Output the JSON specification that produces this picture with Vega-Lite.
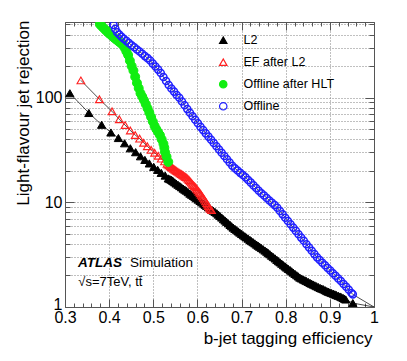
{
"$schema":"https://vega.github.io/schema/vega-lite/v6.json",
"width":309,"height":285,
"autosize":{"type":"none"},
"padding":{"left":65,"top":22,"right":33,"bottom":54},
"config":{"view":{"stroke":null},"font":"Liberation Sans",
 "legend":{"labelFontSize":12.5,"labelFont":"Liberation Sans","labelColor":"#000000","labelOffset":14,"rowPadding":9,"padding":0,"symbolSize":55,"symbolStrokeWidth":1.2}},
"data":{"values":[
{"series":"L2","eff":0.311,"rej":110},{"series":"L2","eff":0.354,"rej":71.3},{"series":"L2","eff":0.383,"rej":55.0},{"series":"L2","eff":0.404,"rej":46.4},{"series":"L2","eff":0.421,"rej":41.1},{"series":"L2","eff":0.435,"rej":36.6},{"series":"L2","eff":0.448,"rej":32.8},{"series":"L2","eff":0.460,"rej":30.1},{"series":"L2","eff":0.471,"rej":27.5},{"series":"L2","eff":0.481,"rej":25.4},{"series":"L2","eff":0.491,"rej":23.5},{"series":"L2","eff":0.501,"rej":21.8},{"series":"L2","eff":0.510,"rej":20.4},{"series":"L2","eff":0.518,"rej":19.1},{"series":"L2","eff":0.527,"rej":18.0},
{"series":"L2","eff":0.534,"rej":16.9},{"series":"L2","eff":0.5375,"rej":16.65},{"series":"L2","eff":0.541,"rej":16.4},{"series":"L2","eff":0.543,"rej":16.15},{"series":"L2","eff":0.545,"rej":15.9},{"series":"L2","eff":0.5485,"rej":15.5},{"series":"L2","eff":0.552,"rej":15.1},{"series":"L2","eff":0.556,"rej":14.7},{"series":"L2","eff":0.560,"rej":14.3},{"series":"L2","eff":0.564,"rej":13.9},{"series":"L2","eff":0.568,"rej":13.5},{"series":"L2","eff":0.5715,"rej":13.2},{"series":"L2","eff":0.575,"rej":12.9},{"series":"L2","eff":0.579,"rej":12.5},{"series":"L2","eff":0.583,"rej":12.1},{"series":"L2","eff":0.587,"rej":11.8},{"series":"L2","eff":0.591,"rej":11.5},{"series":"L2","eff":0.5945,"rej":11.2},{"series":"L2","eff":0.598,"rej":10.9},{"series":"L2","eff":0.602,"rej":10.6},{"series":"L2","eff":0.606,"rej":10.3},{"series":"L2","eff":0.610,"rej":10.0},{"series":"L2","eff":0.614,"rej":9.71},{"series":"L2","eff":0.6175,"rej":9.47},{"series":"L2","eff":0.621,"rej":9.24},{"series":"L2","eff":0.625,"rej":8.98},{"series":"L2","eff":0.629,"rej":8.73},{"series":"L2","eff":0.6325,"rej":8.52},{"series":"L2","eff":0.636,"rej":8.31},{"series":"L2","eff":0.640,"rej":8.08},{"series":"L2","eff":0.644,"rej":7.85},{"series":"L2","eff":0.6475,"rej":7.62},{"series":"L2","eff":0.651,"rej":7.40},{"series":"L2","eff":0.655,"rej":7.15},{"series":"L2","eff":0.659,"rej":6.90},{"series":"L2","eff":0.6625,"rej":6.70},{"series":"L2","eff":0.666,"rej":6.51},{"series":"L2","eff":0.670,"rej":6.29},{"series":"L2","eff":0.674,"rej":6.08},{"series":"L2","eff":0.6775,"rej":5.90},{"series":"L2","eff":0.681,"rej":5.73},{"series":"L2","eff":0.685,"rej":5.57},{"series":"L2","eff":0.689,"rej":5.41},{"series":"L2","eff":0.6925,"rej":5.27},{"series":"L2","eff":0.696,"rej":5.14},{"series":"L2","eff":0.700,"rej":4.99},{"series":"L2","eff":0.704,"rej":4.85},{"series":"L2","eff":0.7075,"rej":4.73},{"series":"L2","eff":0.711,"rej":4.62},{"series":"L2","eff":0.715,"rej":4.49},{"series":"L2","eff":0.719,"rej":4.37},{"series":"L2","eff":0.7225,"rej":4.26},{"series":"L2","eff":0.726,"rej":4.16},{"series":"L2","eff":0.730,"rej":4.05},{"series":"L2","eff":0.734,"rej":3.94},{"series":"L2","eff":0.7375,"rej":3.85},{"series":"L2","eff":0.741,"rej":3.76},{"series":"L2","eff":0.745,"rej":3.66},{"series":"L2","eff":0.749,"rej":3.56},{"series":"L2","eff":0.753,"rej":3.46},{"series":"L2","eff":0.757,"rej":3.37},{"series":"L2","eff":0.7605,"rej":3.28},{"series":"L2","eff":0.764,"rej":3.19},{"series":"L2","eff":0.768,"rej":3.09},{"series":"L2","eff":0.772,"rej":3.00},{"series":"L2","eff":0.776,"rej":2.91},{"series":"L2","eff":0.780,"rej":2.82},{"series":"L2","eff":0.7835,"rej":2.74},{"series":"L2","eff":0.787,"rej":2.67},{"series":"L2","eff":0.791,"rej":2.59},{"series":"L2","eff":0.795,"rej":2.51},{"series":"L2","eff":0.7985,"rej":2.44},{"series":"L2","eff":0.802,"rej":2.38},{"series":"L2","eff":0.806,"rej":2.31},{"series":"L2","eff":0.810,"rej":2.25},{"series":"L2","eff":0.8135,"rej":2.19},{"series":"L2","eff":0.817,"rej":2.13},{"series":"L2","eff":0.821,"rej":2.07},{"series":"L2","eff":0.825,"rej":2.01},{"series":"L2","eff":0.8285,"rej":1.96},{"series":"L2","eff":0.832,"rej":1.91},{"series":"L2","eff":0.836,"rej":1.87},{"series":"L2","eff":0.840,"rej":1.83},{"series":"L2","eff":0.8435,"rej":1.80},{"series":"L2","eff":0.847,"rej":1.77},{"series":"L2","eff":0.851,"rej":1.735},{"series":"L2","eff":0.855,"rej":1.70},{"series":"L2","eff":0.8585,"rej":1.67},{"series":"L2","eff":0.862,"rej":1.64},{"series":"L2","eff":0.866,"rej":1.61},{"series":"L2","eff":0.870,"rej":1.58},{"series":"L2","eff":0.874,"rej":1.55},{"series":"L2","eff":0.878,"rej":1.52},{"series":"L2","eff":0.8815,"rej":1.50},{"series":"L2","eff":0.885,"rej":1.48},{"series":"L2","eff":0.889,"rej":1.45},{"series":"L2","eff":0.893,"rej":1.42},{"series":"L2","eff":0.8965,"rej":1.40},{"series":"L2","eff":0.900,"rej":1.38},{"series":"L2","eff":0.904,"rej":1.36},{"series":"L2","eff":0.908,"rej":1.34},{"series":"L2","eff":0.9115,"rej":1.32},{"series":"L2","eff":0.915,"rej":1.30},{"series":"L2","eff":0.919,"rej":1.28},{"series":"L2","eff":0.923,"rej":1.26},{"series":"L2","eff":0.9265,"rej":1.24},{"series":"L2","eff":0.930,"rej":1.22},{"series":"L2","eff":0.933,"rej":1.20},{"series":"L2","eff":0.936,"rej":1.18},{"series":"L2","eff":0.952,"rej":1.09},{"series":"L2","eff":1.0,"rej":1.0},
{"series":"EF after L2","eff":0.336,"rej":146},{"series":"EF after L2","eff":0.378,"rej":96.4},{"series":"EF after L2","eff":0.4065,"rej":74.0},{"series":"EF after L2","eff":0.423,"rej":62.1},{"series":"EF after L2","eff":0.436,"rej":54.7},{"series":"EF after L2","eff":0.448,"rej":48.5},{"series":"EF after L2","eff":0.459,"rej":43.9},{"series":"EF after L2","eff":0.469,"rej":40.6},{"series":"EF after L2","eff":0.478,"rej":37.0},{"series":"EF after L2","eff":0.4865,"rej":34.3},{"series":"EF after L2","eff":0.495,"rej":31.7},{"series":"EF after L2","eff":0.503,"rej":29.7},{"series":"EF after L2","eff":0.511,"rej":27.8},{"series":"EF after L2","eff":0.518,"rej":26.1},{"series":"EF after L2","eff":0.5255,"rej":24.6},{"series":"EF after L2","eff":0.531,"rej":23.3},{"series":"EF after L2","eff":0.5335,"rej":22.9},{"series":"EF after L2","eff":0.536,"rej":22.5},{"series":"EF after L2","eff":0.5385,"rej":22.1},{"series":"EF after L2","eff":0.541,"rej":21.7},{"series":"EF after L2","eff":0.5435,"rej":21.3},{"series":"EF after L2","eff":0.546,"rej":20.9},{"series":"EF after L2","eff":0.5485,"rej":20.55},{"series":"EF after L2","eff":0.551,"rej":20.2},{"series":"EF after L2","eff":0.5535,"rej":19.85},{"series":"EF after L2","eff":0.556,"rej":19.5},{"series":"EF after L2","eff":0.5585,"rej":19.2},{"series":"EF after L2","eff":0.561,"rej":18.9},{"series":"EF after L2","eff":0.5635,"rej":18.6},{"series":"EF after L2","eff":0.566,"rej":18.3},{"series":"EF after L2","eff":0.5685,"rej":18.0},{"series":"EF after L2","eff":0.571,"rej":17.7},{"series":"EF after L2","eff":0.5735,"rej":17.45},{"series":"EF after L2","eff":0.576,"rej":17.2},{"series":"EF after L2","eff":0.5785,"rej":16.75},{"series":"EF after L2","eff":0.581,"rej":16.3},{"series":"EF after L2","eff":0.5835,"rej":15.85},{"series":"EF after L2","eff":0.586,"rej":15.4},{"series":"EF after L2","eff":0.5885,"rej":15.0},{"series":"EF after L2","eff":0.591,"rej":14.6},{"series":"EF after L2","eff":0.5935,"rej":14.25},{"series":"EF after L2","eff":0.596,"rej":13.9},{"series":"EF after L2","eff":0.5985,"rej":13.45},{"series":"EF after L2","eff":0.601,"rej":13.0},{"series":"EF after L2","eff":0.6035,"rej":12.6},{"series":"EF after L2","eff":0.606,"rej":12.2},{"series":"EF after L2","eff":0.6085,"rej":11.8},{"series":"EF after L2","eff":0.611,"rej":11.4},{"series":"EF after L2","eff":0.6135,"rej":11.0},{"series":"EF after L2","eff":0.616,"rej":10.6},{"series":"EF after L2","eff":0.6185,"rej":10.2},{"series":"EF after L2","eff":0.621,"rej":9.8},{"series":"EF after L2","eff":0.623,"rej":9.5},{"series":"EF after L2","eff":0.625,"rej":9.2},{"series":"EF after L2","eff":0.627,"rej":8.9},{"series":"EF after L2","eff":0.629,"rej":8.65},{"series":"EF after L2","eff":0.632,"rej":8.4},
{"series":"Offline after HLT","eff":0.379,"rej":501},{"series":"Offline after HLT","eff":0.383,"rej":482},{"series":"Offline after HLT","eff":0.387,"rej":463},{"series":"Offline after HLT","eff":0.391,"rej":445},{"series":"Offline after HLT","eff":0.395,"rej":428},{"series":"Offline after HLT","eff":0.399,"rej":413},{"series":"Offline after HLT","eff":0.403,"rej":399},{"series":"Offline after HLT","eff":0.407,"rej":386},{"series":"Offline after HLT","eff":0.411,"rej":373},{"series":"Offline after HLT","eff":0.415,"rej":361},{"series":"Offline after HLT","eff":0.419,"rej":350},{"series":"Offline after HLT","eff":0.423,"rej":340},{"series":"Offline after HLT","eff":0.427,"rej":329},{"series":"Offline after HLT","eff":0.431,"rej":319},{"series":"Offline after HLT","eff":0.435,"rej":299},{"series":"Offline after HLT","eff":0.439,"rej":276},{"series":"Offline after HLT","eff":0.443,"rej":255},{"series":"Offline after HLT","eff":0.447,"rej":225},{"series":"Offline after HLT","eff":0.451,"rej":200},{"series":"Offline after HLT","eff":0.455,"rej":181},{"series":"Offline after HLT","eff":0.459,"rej":158},{"series":"Offline after HLT","eff":0.463,"rej":138},{"series":"Offline after HLT","eff":0.467,"rej":123},{"series":"Offline after HLT","eff":0.471,"rej":110},{"series":"Offline after HLT","eff":0.475,"rej":102},{"series":"Offline after HLT","eff":0.479,"rej":94.2},{"series":"Offline after HLT","eff":0.483,"rej":86.5},{"series":"Offline after HLT","eff":0.487,"rej":78.9},{"series":"Offline after HLT","eff":0.491,"rej":71.8},{"series":"Offline after HLT","eff":0.495,"rej":65.2},{"series":"Offline after HLT","eff":0.499,"rej":59.0},{"series":"Offline after HLT","eff":0.503,"rej":53.5},{"series":"Offline after HLT","eff":0.507,"rej":49.8},{"series":"Offline after HLT","eff":0.511,"rej":46.7},{"series":"Offline after HLT","eff":0.515,"rej":43.8},{"series":"Offline after HLT","eff":0.519,"rej":39.9},{"series":"Offline after HLT","eff":0.523,"rej":36.2},{"series":"Offline after HLT","eff":0.525,"rej":33.2},{"series":"Offline after HLT","eff":0.5265,"rej":30.2},{"series":"Offline after HLT","eff":0.530,"rej":27.3},{"series":"Offline after HLT","eff":0.534,"rej":24.3},
{"series":"Offline","eff":0.410,"rej":494},{"series":"Offline","eff":0.414,"rej":453},{"series":"Offline","eff":0.418,"rej":420},{"series":"Offline","eff":0.423,"rej":400},{"series":"Offline","eff":0.428,"rej":381},{"series":"Offline","eff":0.433,"rej":364},{"series":"Offline","eff":0.439,"rej":348},{"series":"Offline","eff":0.445,"rej":331},{"series":"Offline","eff":0.451,"rej":316},{"series":"Offline","eff":0.457,"rej":302},{"series":"Offline","eff":0.463,"rej":288},{"series":"Offline","eff":0.469,"rej":275},{"series":"Offline","eff":0.475,"rej":262},{"series":"Offline","eff":0.481,"rej":249},{"series":"Offline","eff":0.487,"rej":238},{"series":"Offline","eff":0.493,"rej":226},{"series":"Offline","eff":0.499,"rej":211},{"series":"Offline","eff":0.505,"rej":198},{"series":"Offline","eff":0.511,"rej":185},{"series":"Offline","eff":0.517,"rej":172},{"series":"Offline","eff":0.523,"rej":157},{"series":"Offline","eff":0.529,"rej":144},{"series":"Offline","eff":0.535,"rej":132},{"series":"Offline","eff":0.541,"rej":122},{"series":"Offline","eff":0.547,"rej":114},{"series":"Offline","eff":0.553,"rej":106},{"series":"Offline","eff":0.559,"rej":99.5},{"series":"Offline","eff":0.565,"rej":91.8},{"series":"Offline","eff":0.571,"rej":84.4},{"series":"Offline","eff":0.577,"rej":77.6},{"series":"Offline","eff":0.583,"rej":71.6},{"series":"Offline","eff":0.589,"rej":66.2},{"series":"Offline","eff":0.595,"rej":61.4},{"series":"Offline","eff":0.601,"rej":56.8},{"series":"Offline","eff":0.607,"rej":52.5},{"series":"Offline","eff":0.613,"rej":48.9},{"series":"Offline","eff":0.619,"rej":45.5},{"series":"Offline","eff":0.625,"rej":42.4},{"series":"Offline","eff":0.631,"rej":39.5},{"series":"Offline","eff":0.637,"rej":36.8},{"series":"Offline","eff":0.643,"rej":34.3},{"series":"Offline","eff":0.649,"rej":31.9},{"series":"Offline","eff":0.655,"rej":29.7},{"series":"Offline","eff":0.661,"rej":27.7},{"series":"Offline","eff":0.667,"rej":25.8},{"series":"Offline","eff":0.673,"rej":24.0},{"series":"Offline","eff":0.679,"rej":22.3},{"series":"Offline","eff":0.685,"rej":21.1},{"series":"Offline","eff":0.691,"rej":20.1},{"series":"Offline","eff":0.697,"rej":19.1},{"series":"Offline","eff":0.703,"rej":18.2},{"series":"Offline","eff":0.709,"rej":17.3},{"series":"Offline","eff":0.715,"rej":16.3},{"series":"Offline","eff":0.721,"rej":15.4},{"series":"Offline","eff":0.727,"rej":14.5},{"series":"Offline","eff":0.733,"rej":13.7},{"series":"Offline","eff":0.739,"rej":12.9},{"series":"Offline","eff":0.745,"rej":12.2},{"series":"Offline","eff":0.751,"rej":11.6},{"series":"Offline","eff":0.757,"rej":11.0},{"series":"Offline","eff":0.763,"rej":10.4},{"series":"Offline","eff":0.769,"rej":9.91},{"series":"Offline","eff":0.775,"rej":9.40},{"series":"Offline","eff":0.781,"rej":8.87},{"series":"Offline","eff":0.787,"rej":8.24},{"series":"Offline","eff":0.793,"rej":7.67},{"series":"Offline","eff":0.799,"rej":7.13},{"series":"Offline","eff":0.805,"rej":6.64},{"series":"Offline","eff":0.811,"rej":6.17},{"series":"Offline","eff":0.817,"rej":5.73},{"series":"Offline","eff":0.823,"rej":5.33},{"series":"Offline","eff":0.829,"rej":4.95},{"series":"Offline","eff":0.835,"rej":4.60},{"series":"Offline","eff":0.841,"rej":4.29},{"series":"Offline","eff":0.847,"rej":3.98},{"series":"Offline","eff":0.853,"rej":3.70},{"series":"Offline","eff":0.859,"rej":3.44},{"series":"Offline","eff":0.865,"rej":3.20},{"series":"Offline","eff":0.871,"rej":2.98},{"series":"Offline","eff":0.877,"rej":2.81},{"series":"Offline","eff":0.883,"rej":2.65},{"series":"Offline","eff":0.889,"rej":2.50},{"series":"Offline","eff":0.895,"rej":2.36},{"series":"Offline","eff":0.901,"rej":2.23},{"series":"Offline","eff":0.907,"rej":2.10},{"series":"Offline","eff":0.913,"rej":1.99},{"series":"Offline","eff":0.919,"rej":1.87},{"series":"Offline","eff":0.925,"rej":1.77},{"series":"Offline","eff":0.931,"rej":1.66},{"series":"Offline","eff":0.937,"rej":1.56},{"series":"Offline","eff":0.943,"rej":1.46},{"series":"Offline","eff":0.949,"rej":1.36},{"series":"Offline","eff":0.952,"rej":1.32},{"series":"Offline","eff":1.0,"rej":1.0}
]},
"resolve":{"axis":{"x":"independent","y":"independent"}},
"layer":[
{"mark":{"type":"line","color":"#000000","strokeWidth":0.7,"clip":true},
 "encoding":{
  "x":{"field":"eff","type":"quantitative","scale":{"domain":[0.3,1.0],"nice":false,"zero":false},
   "axis":{"orient":"bottom","values":[0.3,0.4,0.5,0.6,0.7,0.8,0.9,1.0],"format":".1~f","ticks":false,"grid":true,"gridDash":[1,2],"gridColor":"#808080","gridWidth":1,"domain":true,"domainColor":"#555555","labelFontSize":16,"labelFont":"Liberation Sans","labelColor":"#000000","labelPadding":2,"labelFlush":false,"labelOverlap":false,"labelBound":false,"title":"b-jet tagging efficiency","titleFont":"Liberation Sans","titleFontSize":17,"titleFontWeight":"normal","titleColor":"#000000","titleAlign":"right","titleAnchor":"end","titleBaseline":"alphabetic","titleX":307,"titleY":36}},
  "y":{"field":"rej","type":"quantitative","scale":{"type":"log","domain":[1,527],"nice":false,"zero":false},
   "axis":{"orient":"left","values":[1,10,100],"format":"d","ticks":false,"grid":false,"domain":true,"domainColor":"#555555","labelFontSize":16,"labelFont":"Liberation Sans","labelColor":"#000000","labelPadding":3,"labelOffset":{"condition":{"test":"datum.value == 1","value":-3},"value":0},"labelFlush":false,"labelOverlap":false,"labelBound":false,"title":"Light-flavour jet rejection","titleFont":"Liberation Sans","titleFontSize":17,"titleFontWeight":"normal","titleColor":"#000000","titleAngle":-90,"titleAlign":"right","titleAnchor":"end","titleBaseline":"alphabetic","titleX":-37,"titleY":-2}},
  "detail":{"field":"series"}}},
{"transform":[{"filter":"datum.series == 'L2' && datum.eff < 1"}],
 "mark":{"type":"point","strokeWidth":1,"size":68,"opacity":1,"clip":true},
 "encoding":{
  "x":{"field":"eff","type":"quantitative",
   "axis":{"orient":"bottom","values":[0.3,0.32,0.34,0.36,0.38,0.4,0.42,0.44,0.46,0.48,0.5,0.52,0.54,0.56,0.58,0.6,0.62,0.64,0.66,0.68,0.7,0.72,0.74,0.76,0.78,0.8,0.82,0.84,0.86,0.88,0.9,0.92,0.94,0.96,0.98,1.0],"labels":false,"grid":false,"domain":false,"ticks":true,"tickColor":"#555555","tickSize":{"condition":{"test":"abs(datum.value*10-round(datum.value*10))<0.001","value":-8},"value":-4},"title":null}},
  "y":{"field":"rej","type":"quantitative",
   "axis":{"orient":"left","values":[1,2,3,4,5,6,7,8,9,10,20,30,40,50,60,70,80,90,100,200,300,400,500],"labels":false,"grid":true,"gridDash":[1,2],"gridColor":"#808080","gridWidth":1,"domain":false,"ticks":true,"tickColor":"#555555","tickSize":{"condition":{"test":"datum.value==1||datum.value==10||datum.value==100","value":-9},"value":-5},"title":null}},
  "shape":{"field":"series","type":"nominal","scale":{"domain":["L2","EF after L2","Offline after HLT","Offline"],"range":["triangle-up","triangle-up","circle","circle"]},"legend":{"title":null,"orient":"none","legendX":152,"legendY":12}},
  "stroke":{"field":"series","type":"nominal","scale":{"domain":["L2","EF after L2","Offline after HLT","Offline"],"range":["#000000","#ff2020","#11ee11","#2020ff"]},"legend":{"title":null,"orient":"none","legendX":152,"legendY":12}},
  "fill":{"field":"series","type":"nominal","scale":{"domain":["L2","EF after L2","Offline after HLT","Offline"],"range":["#000000","transparent","#11ee11","transparent"]},"legend":{"title":null,"orient":"none","legendX":152,"legendY":12}}}},
{"transform":[{"filter":"datum.series == 'EF after L2'"}],
 "mark":{"type":"point","strokeWidth":1.1,"size":60,"opacity":1,"clip":true},
 "encoding":{
  "x":{"field":"eff","type":"quantitative","axis":null},
  "y":{"field":"rej","type":"quantitative","axis":null},
  "shape":{"field":"series","type":"nominal","legend":{"title":null,"orient":"none","legendX":152,"legendY":12}},
  "stroke":{"field":"series","type":"nominal","legend":{"title":null,"orient":"none","legendX":152,"legendY":12}},
  "fill":{"field":"series","type":"nominal","legend":{"title":null,"orient":"none","legendX":152,"legendY":12}}}},
{"transform":[{"filter":"datum.series == 'Offline after HLT'"}],
 "mark":{"type":"point","strokeWidth":1,"size":80,"opacity":1,"clip":true},
 "encoding":{
  "x":{"field":"eff","type":"quantitative","axis":null},
  "y":{"field":"rej","type":"quantitative","axis":null},
  "shape":{"field":"series","type":"nominal","legend":{"title":null,"orient":"none","legendX":152,"legendY":12}},
  "stroke":{"field":"series","type":"nominal","legend":{"title":null,"orient":"none","legendX":152,"legendY":12}},
  "fill":{"field":"series","type":"nominal","legend":{"title":null,"orient":"none","legendX":152,"legendY":12}}}},
{"transform":[{"filter":"datum.series == 'Offline' && datum.eff < 1"}],
 "mark":{"type":"point","strokeWidth":1.5,"size":50,"opacity":1,"clip":true},
 "encoding":{
  "x":{"field":"eff","type":"quantitative","axis":null},
  "y":{"field":"rej","type":"quantitative","axis":null},
  "shape":{"field":"series","type":"nominal","legend":{"title":null,"orient":"none","legendX":152,"legendY":12}},
  "stroke":{"field":"series","type":"nominal","legend":{"title":null,"orient":"none","legendX":152,"legendY":12}},
  "fill":{"field":"series","type":"nominal","legend":{"title":null,"orient":"none","legendX":152,"legendY":12}}}},
{"mark":{"type":"point","opacity":0},
 "encoding":{
  "x":{"field":"eff","type":"quantitative",
   "axis":{"orient":"top","values":[0.3,0.32,0.34,0.36,0.38,0.4,0.42,0.44,0.46,0.48,0.5,0.52,0.54,0.56,0.58,0.6,0.62,0.64,0.66,0.68,0.7,0.72,0.74,0.76,0.78,0.8,0.82,0.84,0.86,0.88,0.9,0.92,0.94,0.96,0.98,1.0],"labels":false,"grid":false,"domain":true,"domainColor":"#555555","ticks":true,"tickColor":"#555555","tickSize":{"condition":{"test":"abs(datum.value*10-round(datum.value*10))<0.001","value":-8},"value":-4},"title":null}},
  "y":{"field":"rej","type":"quantitative",
   "axis":{"orient":"right","values":[1,2,3,4,5,6,7,8,9,10,20,30,40,50,60,70,80,90,100,200,300,400,500],"labels":false,"grid":false,"domain":true,"domainColor":"#555555","ticks":true,"tickColor":"#555555","tickSize":{"condition":{"test":"datum.value==1||datum.value==10||datum.value==100","value":-9},"value":-5},"title":null}}}},
{"data":{"values":[{}]},
 "mark":{"type":"text","text":"ATLAS","font":"Liberation Sans","fontStyle":"italic","fontWeight":"bold","fontSize":13.5,"align":"left","baseline":"alphabetic","color":"#000000"},
 "encoding":{"x":{"datum":0.3295,"type":"quantitative","axis":null},"y":{"datum":2.39,"type":"quantitative","axis":null}}},
{"data":{"values":[{}]},
 "mark":{"type":"text","text":"Simulation","font":"Liberation Sans","fontSize":13.5,"align":"left","baseline":"alphabetic","color":"#000000"},
 "encoding":{"x":{"datum":0.4473,"type":"quantitative","axis":null},"y":{"datum":2.39,"type":"quantitative","axis":null}}},
{"data":{"values":[{}]},
 "mark":{"type":"text","text":"√s=7TeV, tt̄","font":"Liberation Sans","fontSize":13,"align":"left","baseline":"alphabetic","color":"#000000"},
 "encoding":{"x":{"datum":0.330,"type":"quantitative","axis":null},"y":{"datum":1.58,"type":"quantitative","axis":null}}}
]
}
